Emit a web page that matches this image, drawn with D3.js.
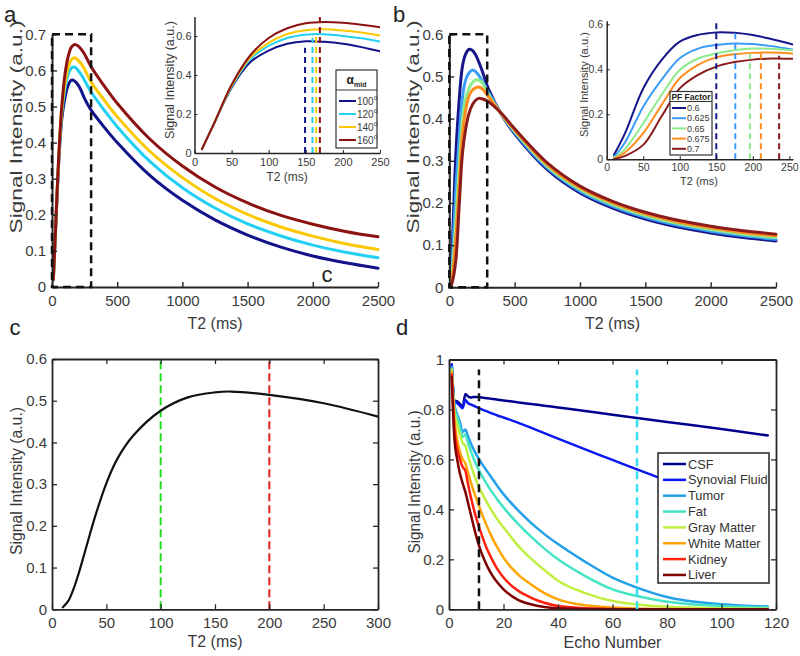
<!DOCTYPE html>
<html><head><meta charset="utf-8">
<script src="https://cdn.jsdelivr.net/npm/d3@7"></script>
<style>body{margin:0;background:#fff}</style>
</head><body>
<script>
// ---------------- DATA ----------------
const t2Grid = [10,25,50,75,100,125,150,175,200,225,250,300,400,500,750,1000,1250,1500,1750,2000,2250,2500];
// panel a : alpha_mid series
const alphaLabels = ["100","120","140","160"];
const alpha100 = [0.02,0.14,0.335,0.465,0.525,0.56,0.573,0.57,0.56,0.543,0.522,0.49,0.443,0.40,0.309,0.24,0.186,0.144,0.111,0.086,0.067,0.052];
const alpha120 = [0.02,0.14,0.34,0.48,0.55,0.59,0.607,0.609,0.6,0.588,0.572,0.54,0.49,0.444,0.348,0.275,0.219,0.175,0.142,0.116,0.096,0.081];
const alpha140 = [0.02,0.14,0.345,0.49,0.565,0.61,0.63,0.635,0.628,0.618,0.603,0.568,0.518,0.472,0.376,0.303,0.245,0.201,0.167,0.141,0.12,0.104];
const alpha160 = [0.02,0.14,0.35,0.5,0.59,0.64,0.665,0.672,0.668,0.658,0.645,0.61,0.557,0.509,0.41,0.335,0.277,0.233,0.199,0.174,0.154,0.139];
const alphaPeakT2 = [149,159,164,169];
const alphaMarkTop = [0.54,0.59,0.6,0.7];
// panel b : partial Fourier factor series
const pfLabels = ["0.6","0.625","0.65","0.675","0.7"];
const pf0600 = [0.02,0.115,0.315,0.441,0.523,0.553,0.564,0.562,0.552,0.535,0.515,0.47,0.409,0.364,0.279,0.224,0.188,0.162,0.143,0.129,0.118,0.11];
const pf0625 = [0.01,0.075,0.234,0.353,0.449,0.492,0.508,0.515,0.512,0.503,0.49,0.462,0.41,0.367,0.283,0.228,0.192,0.166,0.147,0.133,0.122,0.114];
const pf0650 = [0.005,0.045,0.16,0.286,0.397,0.448,0.471,0.485,0.492,0.491,0.486,0.457,0.41,0.37,0.287,0.232,0.196,0.17,0.151,0.137,0.126,0.118];
const pf0675 = [0.003,0.03,0.116,0.241,0.36,0.42,0.453,0.467,0.473,0.475,0.471,0.452,0.411,0.373,0.291,0.236,0.2,0.174,0.155,0.141,0.13,0.122];
const pf0700 = [0,0.015,0.064,0.19,0.315,0.375,0.412,0.432,0.443,0.448,0.447,0.44,0.412,0.376,0.295,0.24,0.204,0.178,0.159,0.145,0.134,0.126];
const pfPeakT2 = [150,176,196,211,236];
const pfMarkTop = [0.61,0.56,0.47,0.47,0.46];
// panel c
const cT2 = [10,15,20,25,30,40,50,60,75,100,125,150,165,200,250,300];
const cSignal = [0.005,0.02,0.05,0.09,0.135,0.225,0.302,0.36,0.417,0.476,0.508,0.52,0.522,0.514,0.494,0.462];
const cMarks = [100,200];
// panel d
const dEcho = [1,2,3,4,5,6,7,8,9,10,11,12,14,16,18,20,25,30,35,40,50,60,69,80,100,117];
const tissues = ["CSF","Synovial Fluid","Tumor","Fat","Gray Matter","White Matter","Kidney","Liver"];
const dCSF      = [0.98,0.835,0.832,0.822,0.81,0.862,0.852,0.848,0.85,0.85,0.849,0.848,0.845,0.842,0.839,0.836,0.829,0.822,0.815,0.808,0.794,0.779,0.766,0.75,0.722,0.696];
const dSynovial = [0.98,0.832,0.825,0.815,0.805,0.838,0.825,0.82,0.815,0.81,0.805,0.8,0.792,0.783,0.775,0.768,0.748,0.727,0.705,0.683,0.64,0.598,0.56,0.515,0.44,0.375];
const dTumor    = [0.97,0.82,0.78,0.75,0.71,0.72,0.692,0.665,0.641,0.62,0.601,0.584,0.552,0.521,0.49,0.461,0.4,0.347,0.301,0.261,0.19,0.127,0.087,0.049,0.02,0.011];
const dFat      = [0.96,0.8,0.77,0.73,0.69,0.7,0.666,0.634,0.605,0.579,0.556,0.536,0.499,0.466,0.436,0.408,0.346,0.292,0.243,0.2,0.133,0.08,0.053,0.03,0.013,0.007];
const dGray     = [0.96,0.79,0.74,0.7,0.665,0.655,0.615,0.578,0.545,0.515,0.488,0.467,0.426,0.389,0.356,0.328,0.259,0.204,0.157,0.114,0.065,0.033,0.019,0.01,0.004,0.002];
const dWhite    = [0.95,0.76,0.68,0.63,0.6,0.585,0.546,0.509,0.475,0.444,0.414,0.384,0.33,0.283,0.243,0.207,0.143,0.1,0.065,0.04,0.016,0.007,0.003,0.001,0,0];
const dKidney   = [0.94,0.72,0.645,0.6,0.57,0.555,0.5,0.45,0.405,0.365,0.33,0.298,0.24,0.195,0.157,0.127,0.077,0.047,0.026,0.013,0.004,0.001,0,0,0,0];
const dLiver    = [0.93,0.68,0.6,0.545,0.505,0.47,0.425,0.38,0.335,0.293,0.255,0.224,0.173,0.134,0.104,0.08,0.04,0.02,0.009,0.004,0.001,0,0,0,0,0];
const dMarks = [11,69];
// tick values
const aYTicks = [0,0.1,0.2,0.3,0.4,0.5,0.6,0.7];
const bYTicks = [0,0.1,0.2,0.3,0.4,0.5,0.6];
const mainXTicks = [0,500,1000,1500,2000,2500];
const insetXTicks = [0,50,100,150,200,250];
const insetYTicks = [0,0.2,0.4,0.6];
const cXTicks = [0,50,100,150,200,250,300];
const cYTicks = [0,0.1,0.2,0.3,0.4,0.5,0.6];
const dXTicks = [0,20,40,60,80,100,120];
const dYTicks = [0,0.2,0.4,0.6,0.8,1];

// ---------------- STYLE ----------------
const FONT = '"Liberation Sans", Arial, Helvetica, sans-serif';
const AX = "#262626", TX = "#3a3a3a";
const alphaColors = ["#12128a","#22d0f4","#fcc800","#8c1212"];
const pfColors = ["#16168a","#3a9cf6","#8cec8c","#ff8c1c","#8c1c1c"];
const tissueColors = ["#00008f","#0a18f0","#24a0e8","#44e4c4","#bff040","#ffa400","#ff2010","#7f0000"];

const svg = d3.select("body").append("svg").attr("width",800).attr("height",656).style("display","block").style("background","#fff");
const defs = svg.append("defs");
const fmt = d => d3.format("~g")(d);
const smooth = d3.curveCatmullRom.alpha(0.5);

function styleAxis(sel, fs, sw) {
  sel.selectAll(".domain").attr("stroke", AX).attr("stroke-width", sw);
  sel.selectAll(".tick line").attr("stroke", AX).attr("stroke-width", Math.max(1, sw*0.7));
  sel.selectAll(".tick text").attr("fill", TX).attr("font-size", fs).attr("font-family", FONT);
}
function frame(g, x, y, o) {
  const [x0,x1] = x.range(), [y0,y1] = y.range();
  const bx = g.append("g").attr("transform",`translate(0,${y0})`)
    .call(d3.axisBottom(x).tickValues(o.xt).tickFormat(fmt).tickSizeInner(-o.tl).tickSizeOuter(0).tickPadding(o.px));
  const ly = g.append("g").attr("transform",`translate(${x0},0)`)
    .call(d3.axisLeft(y).tickValues(o.yt).tickFormat(fmt).tickSizeInner(-o.tl).tickSizeOuter(0).tickPadding(o.py));
  styleAxis(bx,o.fs,o.sw); styleAxis(ly,o.fs,o.sw);
  if (o.box) {
    const tx = g.append("g").attr("transform",`translate(0,${y1})`)
      .call(d3.axisTop(x).tickValues(o.xt).tickFormat("").tickSizeInner(-o.tl).tickSizeOuter(0));
    const ry = g.append("g").attr("transform",`translate(${x1},0)`)
      .call(d3.axisRight(y).tickValues(o.yt).tickFormat("").tickSizeInner(-o.tl).tickSizeOuter(0));
    styleAxis(tx,o.fs,o.sw); styleAxis(ry,o.fs,o.sw);
  }
}
function label(g, txt, x, y, fs, opts={}) {
  const t = g.append("text").attr("x",x).attr("y",y).attr("font-size",fs).attr("font-family",FONT)
    .attr("fill",opts.fill||TX).attr("text-anchor",opts.anchor||"middle").text(txt);
  if (opts.weight) t.attr("font-weight",opts.weight);
  return t;
}
function yLabel(g, txt, bx, cy, fs, len) {
  const t = g.append("text").attr("transform",`translate(${bx},${cy}) rotate(-90)`)
    .attr("text-anchor","middle").attr("font-size",fs).attr("font-family",FONT).attr("fill",TX).text(txt);
  if (len) t.attr("textLength",len).attr("lengthAdjust","spacingAndGlyphs");
}
function curve(g, x, y, xs, ys, color, w, clip, cv) {
  const p = g.append("path").datum(ys).attr("fill","none").attr("stroke",color).attr("stroke-width",w)
    .attr("stroke-linejoin","round").attr("stroke-linecap","round")
    .attr("d", d3.line().x((d,i)=>x(xs[i])).y(d=>y(d)).curve(cv||smooth));
  if (clip) p.attr("clip-path",`url(#${clip})`);
}
function clipRect(id, x, y) {
  const [x0,x1]=x.range(), [y0,y1]=y.range();
  defs.append("clipPath").attr("id",id).append("rect").attr("x",x0).attr("y",y1-2).attr("width",x1-x0).attr("height",y0-y1+4);
}

// ================= PANEL A =================
{
  const g = svg.append("g");
  const x = d3.scaleLinear().domain([0,2500]).range([52,378]);
  const y = d3.scaleLinear().domain([0,0.7]).range([287,34.3]);
  const series = [alpha100, alpha120, alpha140, alpha160];
  series.forEach((s,i)=>curve(g,x,y,t2Grid,s,alphaColors[i],3));
  frame(g,x,y,{xt:mainXTicks,yt:aYTicks,tl:5,px:8,py:6,fs:15,sw:2});
  g.append("rect").attr("x",x(0)).attr("y",y(0.7)).attr("width",x(300)-x(0)).attr("height",y(0)-y(0.7))
    .attr("fill","none").attr("stroke","#111").attr("stroke-width",2.5).attr("stroke-dasharray","8,5");
  yLabel(g,"Signal Intensity (a.u.)",22,127,16,213);
  label(g,"T2 (ms)",215,329,16);
  label(g,"c",327,282,22,{fill:"#222"});
  // inset
  const ix = d3.scaleLinear().domain([0,250]).range([194.5,380]);
  const iy = d3.scaleLinear().domain([0,0.7]).range([153,16.5]);
  clipRect("clipA",ix,iy);
  const ig = g.append("g");
  series.forEach((s,i)=>curve(ig,ix,iy,t2Grid,s,alphaColors[i],2,"clipA"));
  alphaPeakT2.forEach((v,i)=>ig.append("line").attr("x1",ix(v)).attr("x2",ix(v)).attr("y1",iy(0)).attr("y2",iy(alphaMarkTop[i]))
    .attr("stroke",alphaColors[i]).attr("stroke-width",2).attr("stroke-dasharray","6,4"));
  frame(ig,ix,iy,{xt:insetXTicks,yt:insetYTicks,tl:3,px:5,py:3,fs:11,sw:1.5});
  yLabel(ig,"Signal Intensity (a.u.)",174,80,12,118);
  label(ig,"T2 (ms)",287,181,12);
  // legend
  const lg = ig.append("g");
  lg.append("rect").attr("x",336).attr("y",70).attr("width",41).attr("height",78).attr("fill","#fff").attr("stroke","#333").attr("stroke-width",1.2);
  lg.append("line").attr("x1",336).attr("x2",377).attr("y1",90).attr("y2",90).attr("stroke","#333").attr("stroke-width",1.2);
  const tt = lg.append("text").attr("x",356.5).attr("y",84).attr("text-anchor","middle").attr("font-family",FONT).attr("fill","#222").attr("font-weight","bold");
  tt.append("tspan").attr("font-size",12).text("α");
  tt.append("tspan").attr("font-size",7).attr("dy",3).text("mid");
  alphaLabels.forEach((l,i)=>{
    const yy = 101 + i*13;
    lg.append("line").attr("x1",339).attr("x2",356).attr("y1",yy).attr("y2",yy).attr("stroke",alphaColors[i]).attr("stroke-width",2);
    const t = lg.append("text").attr("x",357).attr("y",yy+3.5).attr("font-size",10).attr("font-family",FONT).attr("fill",TX);
    t.append("tspan").text(l);
    t.append("tspan").attr("font-size",7).attr("dy",-5).text("o");
  });
}

// ================= PANEL B =================
{
  const g = svg.append("g");
  const x = d3.scaleLinear().domain([0,2500]).range([449.3,776]);
  const y = d3.scaleLinear().domain([0,0.6]).range([287.3,34.3]);
  const series = [pf0600, pf0625, pf0650, pf0675, pf0700];
  series.forEach((s,i)=>curve(g,x,y,t2Grid,s,pfColors[i],3));
  frame(g,x,y,{xt:mainXTicks,yt:bYTicks,tl:5,px:8,py:6,fs:15,sw:2});
  g.append("rect").attr("x",x(0)).attr("y",y(0.6)).attr("width",x(290)-x(0)).attr("height",y(0)-y(0.6))
    .attr("fill","none").attr("stroke","#111").attr("stroke-width",2.5).attr("stroke-dasharray","8,5");
  yLabel(g,"Signal Intensity (a.u.)",419,127,16,213);
  label(g,"T2 (ms)",612.5,329,16);
  // inset
  const ix = d3.scaleLinear().domain([0,255]).range([606.7,793]);
  const iy = d3.scaleLinear().domain([0,0.616]).range([159.3,20.7]);
  clipRect("clipB",ix,iy);
  const ig = g.append("g");
  series.forEach((s,i)=>curve(ig,ix,iy,t2Grid,s,pfColors[i],2,"clipB"));
  pfPeakT2.forEach((v,i)=>ig.append("line").attr("x1",ix(v)).attr("x2",ix(v)).attr("y1",iy(0)).attr("y2",iy(pfMarkTop[i]))
    .attr("stroke",pfColors[i]).attr("stroke-width",2).attr("stroke-dasharray","6,4"));
  frame(ig,ix,iy,{xt:insetXTicks,yt:insetYTicks,tl:3,px:4,py:3.5,fs:10.5,sw:1.5});
  yLabel(ig,"Signal Intensity (a.u.)",588,84.5,11,105);
  label(ig,"T2 (ms)",699,185,11);
  const lg = ig.append("g");
  lg.append("rect").attr("x",670).attr("y",91.5).attr("width",42).attr("height",63.5).attr("fill","#fff").attr("stroke","#333").attr("stroke-width",1.2);
  lg.append("line").attr("x1",670).attr("x2",712).attr("y1",101.5).attr("y2",101.5).attr("stroke","#333").attr("stroke-width",1.2);
  label(lg,"PF Factor",691,99.5,8.5,{fill:"#222",weight:"bold"});
  pfLabels.forEach((l,i)=>{
    const yy = 108 + i*10.2;
    lg.append("line").attr("x1",672).attr("x2",686).attr("y1",yy).attr("y2",yy).attr("stroke",pfColors[i]).attr("stroke-width",2);
    label(lg,l,687,yy+3.2,9,{anchor:"start"});
  });
}

// ================= PANEL C =================
{
  const g = svg.append("g");
  const x = d3.scaleLinear().domain([0,300]).range([52,378]);
  const y = d3.scaleLinear().domain([0,0.6]).range([609.3,359]);
  const markColors = ["#22dd22","#e02222"];
  cMarks.forEach((v,i)=>g.append("line").attr("x1",x(v)).attr("x2",x(v)).attr("y1",y(0)).attr("y2",y(0.6))
    .attr("stroke",markColors[i]).attr("stroke-width",2).attr("stroke-dasharray","8,4"));
  curve(g,x,y,cT2,cSignal,"#111",2.2);
  frame(g,x,y,{xt:cXTicks,yt:cYTicks,tl:5,px:8,py:5,fs:15,sw:1.8,box:true});
  yLabel(g,"Signal Intensity (a.u.)",22,481,16,148);
  label(g,"T2 (ms)",215,647,16);
}

// ================= PANEL D =================
{
  const g = svg.append("g");
  const x = d3.scaleLinear().domain([0,120]).range([449,776]);
  const y = d3.scaleLinear().domain([0,1]).range([609.3,359.5]);
  const markColors = ["#111","#33dff0"];
  const series = [dCSF,dSynovial,dTumor,dFat,dGray,dWhite,dKidney,dLiver];
  series.forEach((s,i)=>curve(g,x,y,dEcho,s,tissueColors[i],2.5,null,d3.curveMonotoneX));
  dMarks.forEach((v,i)=>g.append("line").attr("x1",x(v)).attr("x2",x(v)).attr("y1",y(0)).attr("y2",y(0.96))
    .attr("stroke",markColors[i]).attr("stroke-width",2.5).attr("stroke-dasharray","8,5"));
  frame(g,x,y,{xt:dXTicks,yt:dYTicks,tl:5,px:8,py:5,fs:15,sw:1.8,box:true});
  yLabel(g,"Signal Intensity (a.u.)",420,482,16,143);
  label(g,"Echo Number",612.5,648,16);
  const lg = g.append("g");
  lg.append("rect").attr("x",658).attr("y",453).attr("width",111).attr("height",130).attr("fill","#fff").attr("stroke","#222").attr("stroke-width",1.5);
  tissues.forEach((l,i)=>{
    const yy = 464 + i*15.85;
    lg.append("line").attr("x1",663).attr("x2",686).attr("y1",yy).attr("y2",yy).attr("stroke",tissueColors[i]).attr("stroke-width",2.5);
    label(lg,l,688,yy+4.5,12.8,{anchor:"start",fill:"#333"});
  });
}

// panel letters
label(svg,"a",10,22,22,{fill:"#222"});
label(svg,"b",399,22,22,{fill:"#222"});
label(svg,"c",15,335,22,{fill:"#222"});
label(svg,"d",402,335,22,{fill:"#222"});
</script>
</body></html>
